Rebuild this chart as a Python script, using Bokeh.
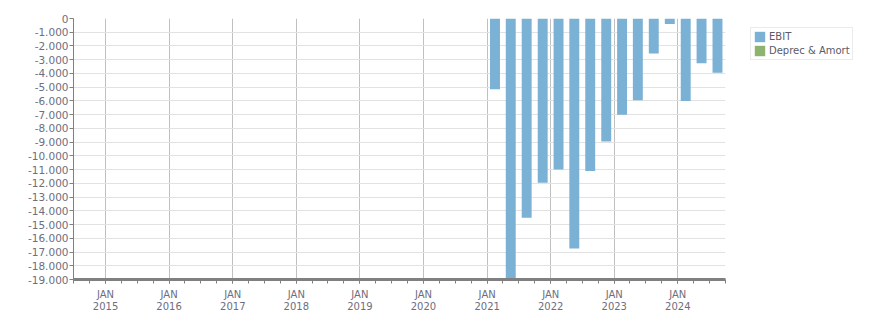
import pandas as pd
from datetime import datetime
from bokeh.plotting import figure
from bokeh.models import (ColumnDataSource, Range1d, FixedTicker, CustomJSTickFormatter,
                          Legend, LegendItem)
from bokeh.embed import file_html
from bokeh.resources import INLINE

# ---- data ----
quarters = ["2021Q1", "2021Q2", "2021Q3", "2021Q4",
            "2022Q1", "2022Q2", "2022Q3", "2022Q4",
            "2023Q1", "2023Q2", "2023Q3", "2023Q4",
            "2024Q1", "2024Q2", "2024Q3"]
ebit = [-5150, -19000, -14500, -11950,
        -11000, -16750, -11100, -8950,
        -7000, -5950, -2550, -400,
        -6000, -3250, -3950]
deprec_amort = [0, 0, 0, 0, 0, 0, 0, 0, 0, 0, 0, 0, 0, 0, 0]  # not visible in chart
years = list(range(2015, 2025))
y_ticks = list(range(-19000, 1, 1000))

# ---- derived positions ----
starts = [pd.Period(q, freq="Q").start_time for q in quarters]
ends = [pd.Period(q, freq="Q").end_time for q in quarters]
centers = [s + (e - s) / 2 for s, e in zip(starts, ends)]
src = ColumnDataSource(dict(x=centers, top=[0] * len(ebit), bottom=ebit))
src2 = ColumnDataSource(dict(x=centers, top=[0] * len(deprec_amort), bottom=deprec_amort))

def ms(d):
    return (pd.Timestamp(d) - pd.Timestamp("1970-01-01")) / pd.Timedelta(milliseconds=1)

major = [ms(datetime(y, 1, 1)) for y in years]
minor = [ms(datetime(y, m, 1)) for y in range(2014, 2025) for m in (1, 4, 7, 10)]

p = figure(x_axis_type="datetime", output_backend="svg", toolbar_location=None,
           frame_width=652, frame_height=261,
           min_border_left=73, min_border_right=0, min_border_top=18, min_border_bottom=0,
           x_range=Range1d(datetime(2014, 7, 1), datetime(2024, 10, 1)),
           y_range=Range1d(-19000, 0))
p.outline_line_color = None
p.background_fill_color = "white"

bar_w = 57 * 24 * 3600 * 1000
r1 = p.vbar(x="x", top="top", bottom="bottom", width=bar_w, source=src,
            fill_color="#7ab1d4", line_color=None)
r2 = p.vbar(x="x", top="top", bottom="bottom", width=bar_w, source=src2,
            fill_color="#8db46e", line_color=None)

FONT = "DejaVu Sans"
# axes
xa = p.xaxis[0]
xa.ticker = FixedTicker(ticks=major, minor_ticks=minor)
xa.formatter = CustomJSTickFormatter(code="var d=new Date(tick); return 'JAN\\n' + d.getUTCFullYear();")
xa.axis_line_color = "#808080"
xa.axis_line_width = 3
xa.major_tick_in = 0
xa.major_tick_out = 4
xa.minor_tick_in = 0
xa.minor_tick_out = 4
xa.major_tick_line_color = "#808080"
xa.minor_tick_line_color = "#808080"
xa.major_label_text_font = FONT
xa.major_label_text_font_size = "10px"
xa.major_label_text_line_height = 1.15
xa.major_label_text_color = "#6e6e7e"
xa.major_label_standoff = 5

ya = p.yaxis[0]
ya.ticker = FixedTicker(ticks=y_ticks, minor_ticks=[])
ya.formatter = CustomJSTickFormatter(code="""
var s = Math.abs(tick).toFixed(0).replace(/\\B(?=(\\d{3})+(?!\\d))/g, '.');
return (tick < 0 ? '-' : '') + s;""")
ya.axis_line_color = "#808080"
ya.major_tick_in = 0
ya.major_tick_out = 4
ya.minor_tick_line_color = None
ya.major_tick_line_color = "#808080"
ya.major_label_text_font = FONT
ya.major_label_text_font_size = "10.5px"
ya.major_label_text_color = "#6e6e7e"
ya.major_label_standoff = 1

p.xgrid.ticker = FixedTicker(ticks=major)
p.xgrid.grid_line_color = "#c0c0c0"
p.ygrid.ticker = FixedTicker(ticks=y_ticks)
p.ygrid.grid_line_color = "#e2e2e2"

legend = Legend(items=[LegendItem(label="EBIT", renderers=[r1]),
                       LegendItem(label="Deprec & Amort", renderers=[r2])])
legend.border_line_color = "#d8d8d8"
legend.background_fill_color = "white"
legend.label_text_font = FONT
legend.label_text_font_size = "10px"
legend.label_text_color = "#5a5a6a"
legend.glyph_width = 13
legend.glyph_height = 13
legend.label_standoff = 3
legend.padding = 2
legend.spacing = 1
legend.label_height = 13
legend.margin = 0
legend.location = (25, 219)
p.add_layout(legend, "right")

open("out.html", "w").write(file_html(p, INLINE))
